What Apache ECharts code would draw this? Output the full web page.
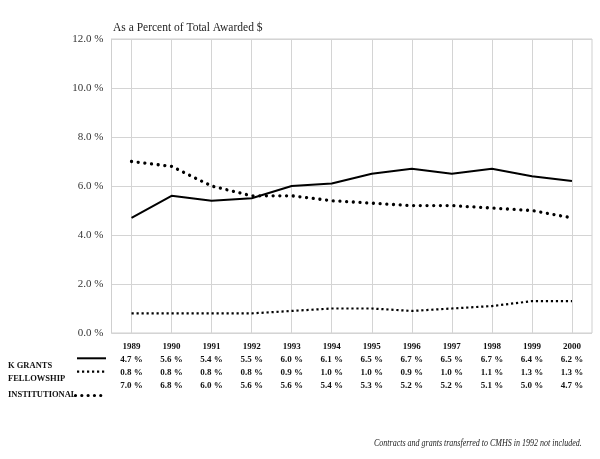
<!DOCTYPE html>
<html>
<head>
<meta charset="utf-8">
<script src="https://cdn.jsdelivr.net/npm/echarts@6/dist/echarts.min.js"></script>
<style>html,body{margin:0;padding:0;background:#fff;}#c{width:600px;height:459px;}</style>
</head>
<body>
<div id="c"></div>
<script>
var years = ['1989','1990','1991','1992','1993','1994','1995','1996','1997','1998','1999','2000'];
var kGrants = [4.7, 5.6, 5.4, 5.5, 6.0, 6.1, 6.5, 6.7, 6.5, 6.7, 6.4, 6.2];
var fellowship = [0.8, 0.8, 0.8, 0.8, 0.9, 1.0, 1.0, 0.9, 1.0, 1.1, 1.3, 1.3];
var institutional = [7.0, 6.8, 6.0, 5.6, 5.6, 5.4, 5.3, 5.2, 5.2, 5.1, 5.0, 4.7];
var yTicks = [0, 2, 4, 6, 8, 10, 12];
var seriesNames = ['K GRANTS', 'FELLOWSHIP', 'INSTITUTIONAL'];

var serif = '"Liberation Serif", "DejaVu Serif", serif';
function pct(v) { return v.toFixed(1) + ' %'; }

var chart = echarts.init(document.getElementById('c'), null, {renderer: 'canvas'});
chart.setOption({
  backgroundColor: '#fff',
  animation: false,
  title: {
    text: 'As a Percent of Total Awarded $',
    left: 108, top: 17,
    textStyle: {fontFamily: serif, fontSize: 11.5, fontWeight: 'normal', color: '#222'}
  },
  grid: {left: 111.5, right: 8, top: 39, height: 294, show: true, borderColor: '#cfcfcf', borderWidth: 1},
  xAxis: {
    type: 'category',
    data: years,
    boundaryGap: true,
    axisLine: {show: false},
    axisTick: {show: false},
    splitLine: {show: true, alignWithLabel: true, lineStyle: {color: '#d4d4d4', width: 1}},
    axisLabel: {
      margin: 7,
      interval: 0,
      formatter: function (val, i) {
        return '{y|' + years[i] + '}\n{v|' + pct(kGrants[i]) + '}\n{v|' + pct(fellowship[i]) + '}\n{v|' + pct(institutional[i]) + '}';
      },
      rich: {
        y: {fontFamily: serif, fontSize: 9, fontWeight: 'bold', color: '#111', lineHeight: 13},
        v: {fontFamily: serif, fontSize: 9, fontWeight: 'bold', color: '#111', lineHeight: 13}
      }
    }
  },
  yAxis: {
    type: 'value',
    min: yTicks[0], max: yTicks[yTicks.length - 1], interval: yTicks[1] - yTicks[0],
    axisLine: {show: true, lineStyle: {color: '#cfcfcf'}},
    axisTick: {show: false},
    splitLine: {show: true, lineStyle: {color: '#d4d4d4', width: 1}},
    axisLabel: {
      margin: 8,
      fontFamily: serif, fontSize: 11, color: '#333',
      formatter: function (v) { return v.toFixed(1) + ' %'; }
    }
  },
  series: [
    {name: seriesNames[0], type: 'line', data: kGrants, symbol: 'none',
     lineStyle: {color: '#000', width: 2, type: 'solid'}},
    {name: seriesNames[1], type: 'line', data: fellowship, symbol: 'none',
     lineStyle: {color: '#000', width: 2.2, type: [2.2, 2.8]}},
    {name: seriesNames[2], type: 'line', data: institutional, symbol: 'none',
     lineStyle: {color: '#000', width: 3.3, type: [0.01, 6.7], cap: 'round'}}
  ],
  graphic: [
    {type: 'text', left: 8, top: 361, style: {text: seriesNames[0], font: 'bold 8.5px ' + serif, fill: '#111'}},
    {type: 'text', left: 8, top: 374.5, style: {text: seriesNames[1], font: 'bold 8.5px ' + serif, fill: '#111'}},
    {type: 'text', left: 8, top: 390, style: {text: seriesNames[2], font: 'bold 8.5px ' + serif, fill: '#111'}},
    {type: 'line', shape: {x1: 77, y1: 358.3, x2: 106, y2: 358.3}, style: {stroke: '#000', lineWidth: 2}},
    {type: 'line', shape: {x1: 77, y1: 371.7, x2: 106, y2: 371.7}, style: {stroke: '#000', lineWidth: 2.2, lineDash: [2.2, 2.8]}},
    {type: 'line', shape: {x1: 75.5, y1: 395.5, x2: 106, y2: 395.5}, style: {stroke: '#000', lineWidth: 3.2, lineDash: [0.01, 6.3], lineCap: 'round'}},
    {type: 'text', x: 374, y: 438, scaleX: 0.8, style: {text: 'Contracts and grants transferred to CMHS in 1992 not included.', font: 'italic 10px ' + serif, fill: '#222'}}
  ]
});
</script>
</body>
</html>
